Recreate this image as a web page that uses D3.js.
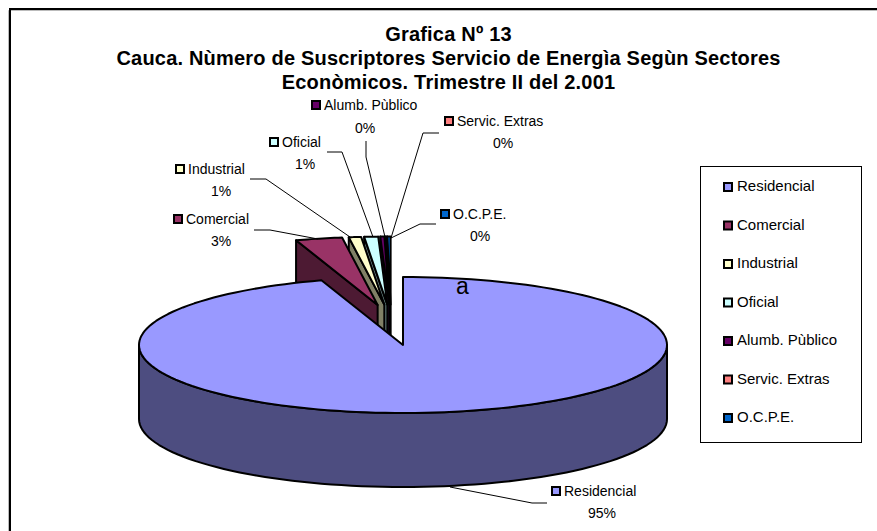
<!DOCTYPE html>
<html><head><meta charset="utf-8">
<script src="https://cdn.jsdelivr.net/npm/d3@7"></script>
<style>html,body{margin:0;padding:0;background:#fff}svg{display:block}text{font-family:"Liberation Sans",Arial,sans-serif;fill:#000}</style>
</head><body><svg id="c" width="877" height="531"></svg>
<script>
const categories = ["Residencial","Comercial","Industrial","Oficial","Alumb. Pùblico","Servic. Extras","O.C.P.E."];
const pointLabels = ["Residencial","Comercial","Industrial","Oficial","Alumb. Pùblico","Servic. Extras","O.C.P.E."];
const values = [95.0,2.85,0.75,0.85,0.25,0.1,0.2];
const percentLabels = ["95%","3%","1%","1%","0%","0%","0%"];
const topColors = ["#9999ff","#993366","#ffffcc","#ccffff","#660066","#ff8080","#0066cc"];
const wallColors = ["#4d4d80","#4d1a33","#808066","#668080","#330033","#804040","#003366"];
const titleLines = ["Grafica Nº 13","Cauca. Nùmero de Suscriptores Servicio de Energìa Segùn Sectores","Econòmicos. Trimestre II del 2.001"];

const svg = d3.select("#c");
const cx=403, cy=345, rx=264, ry=68, depth=74;
const groupDX=-12, groupDY=-25, explode=60;
const arcs = d3.pie().sort(null).value(d=>d).startAngle(0).endAngle(2*Math.PI)(values);
const pt=(x0,y0,a)=>[x0+rx*Math.sin(a), y0-ry*Math.cos(a)];
function arcPts(x0,y0,a0,a1,n=48){const s=d3.scaleLinear().domain([0,n]).range([a0,a1]);return d3.range(n+1).map(i=>pt(x0,y0,s(i)));}
const line=d3.line();
const stroke={stroke:"#000","stroke-width":2,"stroke-linejoin":"round"};
function poly(g,pts,fill){const p=g.append("path").attr("d",line(pts)+"Z").attr("fill",fill);for(const k in stroke)p.attr(k,stroke[k]);return p;}

// frame
svg.append("path").attr("d","M8.5,531V10.5H877").attr("fill","none").attr("stroke","#bbb").attr("stroke-width",1);
svg.append("path").attr("d","M10,531V9H877").attr("fill","none").attr("stroke","#000").attr("stroke-width",2);

// title
const t=svg.append("g");
titleLines.forEach((s,i)=>t.append("text").attr("x",448.5).attr("y",[41,65,89][i]).attr("text-anchor","middle").attr("font-weight","bold").attr("font-size",20).attr("letter-spacing",0.2).text(s));

const g=svg.append("g");
// exploded slices, right to left
for(let i=arcs.length-1;i>=1;i--){
  const a0=arcs[i].startAngle-2*Math.PI,a1=arcs[i].endAngle-2*Math.PI,m=(a0+a1)/2;
  const ax=cx+groupDX+explode*Math.sin(m), ay=cy+groupDY-explode*Math.cos(m)*ry/rx;
  const c=pt(ax,ay,a0);
  poly(g,[c,[ax,ay],[ax,ay+depth],[c[0],c[1]+depth]],wallColors[i]);
  poly(g,[[ax,ay],...arcPts(ax,ay,a0,a1,12)],topColors[i]);
}
// main slice
const a0=arcs[0].startAngle,a1=arcs[0].endAngle;
const low=arcPts(cx,cy,Math.PI/2,3*Math.PI/2,80);
poly(g,[...low,...low.slice().reverse().map(p=>[p[0],p[1]+depth])],wallColors[0]);
poly(g,[[cx,cy],...arcPts(cx,cy,a0,a1,160)],topColors[0]);

// a
svg.append("text").attr("x",456).attr("y",294).attr("font-size",23).text("a");

// leader lines
const leaders=[
 [[450,487],[532,503],[547,503]],
 [[254,230],[270,230],[318,239]],
 [[250,179],[266,179],[350,237]],
 [[327,152],[342,152],[373,237]],
 [[366,141],[366,157],[385,237]],
 [[439,133],[423,133],[391,238]],
 [[436,224],[420,224],[391,238]]];
leaders.forEach(l=>svg.append("path").attr("d",line(l)).attr("fill","none").attr("stroke","#000").attr("stroke-width",1));

// point labels: text x, label y, percent centre x, percent y
const labelPos=[[564,491,602,513],[186,219,221,241],[188,169,221,191],[282,142,305,164],[324,105,365,128],[457,121,503,143],[453,214,480,236]];
labelPos.forEach((p,i)=>{
  svg.append("rect").attr("x",p[0]-12).attr("y",p[1]-4).attr("width",8).attr("height",8).attr("fill",topColors[i]).attr("stroke","#000").attr("stroke-width",2);
  svg.append("text").attr("x",p[0]).attr("y",p[1]+5).attr("font-size",14).text(pointLabels[i]);
  svg.append("text").attr("x",p[2]).attr("y",p[3]+5).attr("text-anchor","middle").attr("font-size",14).text(percentLabels[i]);
});

// legend
svg.append("rect").attr("x",700.5).attr("y",166.5).attr("width",161).attr("height",276).attr("fill","#fff").attr("stroke","#000").attr("stroke-width",1);
const ly=d3.scalePoint().domain(categories).range([186,417]);
categories.forEach((c,i)=>{
  svg.append("rect").attr("x",724).attr("y",ly(c)-3).attr("width",8).attr("height",8).attr("fill",topColors[i]).attr("stroke","#000").attr("stroke-width",2);
  svg.append("text").attr("x",737).attr("y",ly(c)+5).attr("font-size",15).text(c);
});
</script></body></html>
